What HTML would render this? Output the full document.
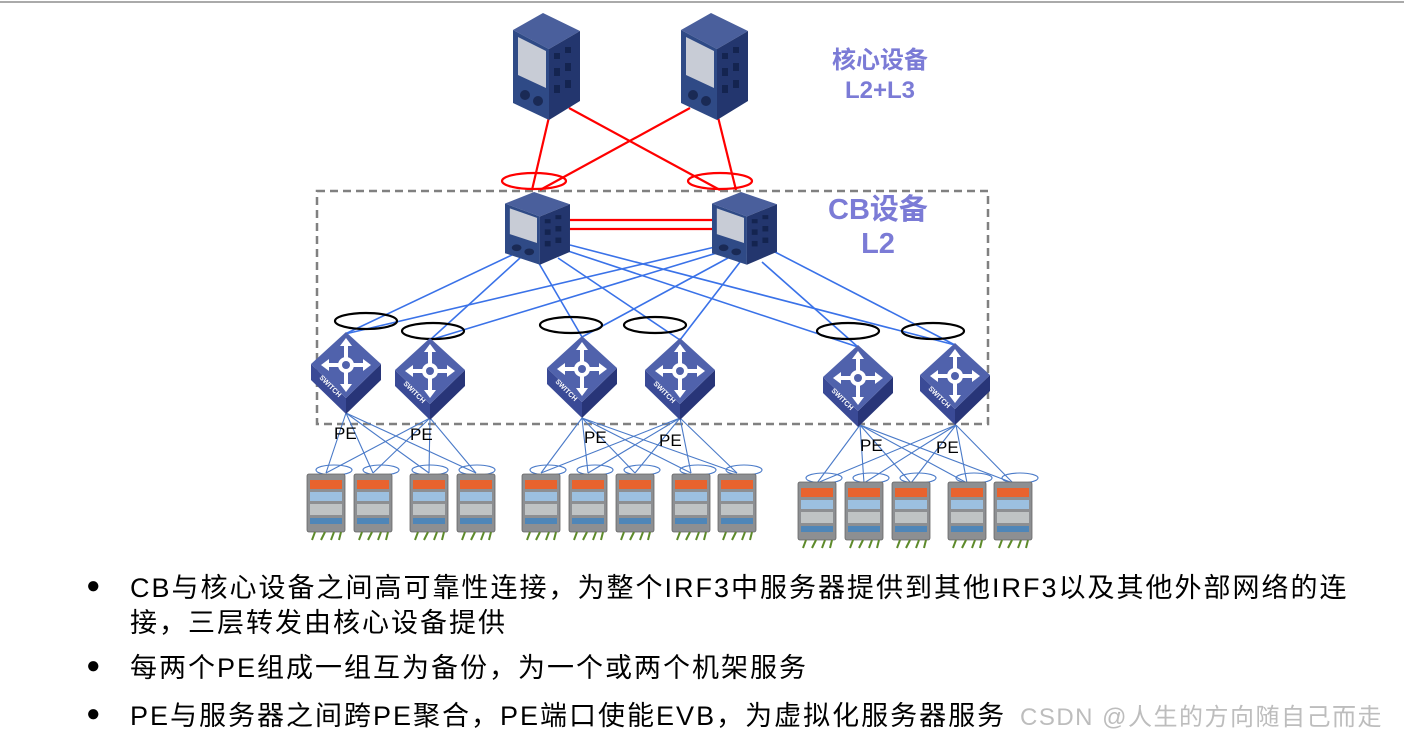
<!DOCTYPE html>
<html><head><meta charset="utf-8"><style>
body{margin:0;background:#fff;width:1404px;height:737px;overflow:hidden;position:relative;font-family:"Liberation Sans","Noto Sans CJK SC",sans-serif}
.b{position:absolute;left:130px;font-size:27px;letter-spacing:2px;color:#000;white-space:nowrap}
.d{position:absolute;left:86px;font-size:24px}
</style></head><body>
<svg width="1404" height="737" style="position:absolute;left:0;top:0">
<defs>
<g id="tw">
<polygon points="0,17 30,0 67,18 36,36" fill="#4a5f9c"/>
<polygon points="0,17 36,36 36,107 0,90" fill="#2f4a86"/>
<polygon points="5,24 33,38 33,75 5,62" fill="#c8ccd6"/>
<polygon points="36,36 67,18 67,88 36,107" fill="#23366e"/>
<rect x="41" y="40" width="6" height="6" fill="#142450"/><rect x="52" y="34" width="6" height="6" fill="#142450"/>
<rect x="41" y="55" width="6" height="8" fill="#142450"/><rect x="52" y="50" width="6" height="8" fill="#142450"/>
<rect x="41" y="72" width="6" height="8" fill="#142450"/><rect x="52" y="67" width="6" height="8" fill="#142450"/>
<circle cx="12" cy="82" r="5" fill="#1a2a55"/><circle cx="25" cy="88" r="5" fill="#1a2a55"/>
</g>
<g id="sw">
<polygon points="0,32 35,66 35,82 0,48" fill="#3a4a96"/>
<polygon points="70,32 35,66 35,82 70,48" fill="#283578"/>
<polygon points="35,0 70,32 35,66 0,32" fill="#5062ac"/>
<g stroke="#fff" stroke-width="4" fill="none"><line x1="35" y1="10" x2="35" y2="56"/><line x1="14" y1="33" x2="56" y2="33"/></g>
<circle cx="35" cy="33" r="8" fill="#fff"/><circle cx="35" cy="33" r="4" fill="#5062ac"/>
<g fill="#fff"><polygon points="35,6 29,14 41,14"/><polygon points="35,60 29,52 41,52"/><polygon points="10,33 18,27 18,39"/><polygon points="60,33 52,27 52,39"/></g>
<text x="8" y="46" font-size="7" fill="#fff" font-weight="bold" transform="rotate(45 8 46)">SWITCH</text>
</g>
<g id="sv">
<rect x="0" y="0" width="38" height="58" rx="2" fill="#8d8f92" stroke="#666" stroke-width="0.8"/>
<rect x="3" y="6" width="32" height="9" fill="#e8632e"/>
<rect x="3" y="18" width="32" height="9" fill="#9cc0e0"/>
<rect x="3" y="30" width="32" height="11" fill="#bfc3c4"/>
<rect x="3" y="44" width="32" height="6" fill="#4f86b8"/>
<g stroke="#5d8a2a" stroke-width="2"><line x1="5" y1="66" x2="8" y2="58"/><line x1="14" y1="66" x2="18" y2="58"/><line x1="24" y1="66" x2="27" y2="58"/><line x1="32" y1="66" x2="34" y2="58"/></g>
</g>
</defs>
<line x1="0" y1="2" x2="1404" y2="2" stroke="#aaa" stroke-width="2"/>
<rect x="317" y="191" width="671" height="233" fill="none" stroke="#808080" stroke-width="2.5" stroke-dasharray="8,5"/>
<g stroke="#f00" stroke-width="2.2" fill="none">
<line x1="549" y1="117" x2="532" y2="190"/><line x1="569" y1="108" x2="720" y2="190"/>
<line x1="690" y1="108" x2="540" y2="190"/><line x1="718" y1="117" x2="736" y2="190"/>
<ellipse cx="534" cy="181" rx="32" ry="8"/><ellipse cx="720" cy="181" rx="32" ry="8"/>
<line x1="568" y1="220" x2="714" y2="220"/><line x1="568" y1="229" x2="714" y2="229"/>
</g>
<use href="#tw" x="513" y="13"/><use href="#tw" x="681" y="13"/>
<g stroke="#3a72e8" stroke-width="1.6">
<line x1="512" y1="255" x2="345" y2="334"/><line x1="520" y1="258" x2="430" y2="340"/><line x1="537" y1="260" x2="582" y2="337"/><line x1="558" y1="258" x2="680" y2="340"/><line x1="565" y1="250" x2="858" y2="347"/><line x1="570" y1="245" x2="955" y2="345"/>
<line x1="715" y1="247" x2="345" y2="334"/><line x1="720" y1="252" x2="430" y2="340"/><line x1="728" y1="258" x2="582" y2="337"/><line x1="740" y1="262" x2="680" y2="340"/><line x1="762" y1="262" x2="858" y2="347"/><line x1="775" y1="252" x2="955" y2="345"/>
</g>
<use href="#tw" x="505" y="192" transform="translate(505 192) scale(0.97 0.68) translate(-505 -192)"/>
<use href="#tw" x="712" y="192" transform="translate(712 192) scale(0.97 0.68) translate(-712 -192)"/>
<g stroke="#000" stroke-width="2.2" fill="none">
<ellipse cx="366" cy="321" rx="31" ry="8"/><ellipse cx="433" cy="331" rx="31" ry="8"/><ellipse cx="571" cy="325" rx="31" ry="8"/><ellipse cx="655" cy="325" rx="31" ry="8"/><ellipse cx="848" cy="331" rx="31" ry="8"/><ellipse cx="933" cy="331" rx="31" ry="8"/>
</g>
<g stroke="#4a7ac8" stroke-width="1.1">
<line x1="346" y1="413" x2="326" y2="473"/><line x1="346" y1="413" x2="373" y2="473"/><line x1="346" y1="413" x2="429" y2="473"/><line x1="346" y1="413" x2="476" y2="473"/>
<line x1="430" y1="418" x2="326" y2="473"/><line x1="430" y1="418" x2="373" y2="473"/><line x1="430" y1="418" x2="429" y2="473"/><line x1="430" y1="418" x2="476" y2="473"/>
<line x1="582" y1="418" x2="541" y2="473"/><line x1="582" y1="418" x2="588" y2="473"/><line x1="582" y1="418" x2="635" y2="473"/><line x1="582" y1="418" x2="691" y2="473"/><line x1="582" y1="418" x2="737" y2="473"/>
<line x1="680" y1="418" x2="541" y2="473"/><line x1="680" y1="418" x2="588" y2="473"/><line x1="680" y1="418" x2="635" y2="473"/><line x1="680" y1="418" x2="691" y2="473"/><line x1="680" y1="418" x2="737" y2="473"/>
<line x1="860" y1="425" x2="817" y2="483"/><line x1="860" y1="425" x2="864" y2="483"/><line x1="860" y1="425" x2="911" y2="483"/><line x1="860" y1="425" x2="967" y2="483"/><line x1="860" y1="425" x2="1013" y2="483"/>
<line x1="956" y1="425" x2="817" y2="483"/><line x1="956" y1="425" x2="864" y2="483"/><line x1="956" y1="425" x2="911" y2="483"/><line x1="956" y1="425" x2="967" y2="483"/><line x1="956" y1="425" x2="1013" y2="483"/>
</g>
<g stroke="#4a7ac8" stroke-width="1.1" fill="none">
<ellipse cx="334" cy="470" rx="18" ry="5"/><ellipse cx="381" cy="470" rx="18" ry="5"/><ellipse cx="430" cy="470" rx="18" ry="5"/><ellipse cx="477" cy="470" rx="18" ry="5"/>
<ellipse cx="548" cy="470" rx="18" ry="5"/><ellipse cx="595" cy="470" rx="18" ry="5"/><ellipse cx="642" cy="470" rx="18" ry="5"/><ellipse cx="698" cy="470" rx="18" ry="5"/><ellipse cx="744" cy="470" rx="18" ry="5"/>
<ellipse cx="824" cy="478" rx="18" ry="5"/><ellipse cx="871" cy="478" rx="18" ry="5"/><ellipse cx="918" cy="478" rx="18" ry="5"/><ellipse cx="974" cy="478" rx="18" ry="5"/><ellipse cx="1020" cy="478" rx="18" ry="5"/>
</g>
<use href="#sw" x="311" y="332"/><use href="#sw" x="395" y="338"/><use href="#sw" x="547" y="336"/><use href="#sw" x="645" y="338"/><use href="#sw" x="823" y="345"/><use href="#sw" x="920" y="343"/>
<use href="#sv" x="307" y="474"/><use href="#sv" x="354" y="474"/><use href="#sv" x="410" y="474"/><use href="#sv" x="457" y="474"/>
<use href="#sv" x="522" y="474"/><use href="#sv" x="569" y="474"/><use href="#sv" x="616" y="474"/><use href="#sv" x="672" y="474"/><use href="#sv" x="718" y="474"/>
<use href="#sv" x="798" y="482"/><use href="#sv" x="845" y="482"/><use href="#sv" x="892" y="482"/><use href="#sv" x="948" y="482"/><use href="#sv" x="994" y="482"/>
<g font-family="Liberation Sans, sans-serif" font-size="17" fill="#000">
<text x="334" y="439">PE</text><text x="410" y="440">PE</text><text x="584" y="443">PE</text><text x="659" y="446">PE</text><text x="860" y="451">PE</text><text x="936" y="453">PE</text>
</g>
<g font-family="Liberation Sans, Noto Sans CJK SC, sans-serif" font-weight="bold" fill="#7b7bd6" text-anchor="middle">
<text x="880" y="68" font-size="24">核心设备</text><text x="880" y="98" font-size="24">L2+L3</text>
<text x="878" y="219" font-size="29">CB设备</text><text x="878" y="253" font-size="29">L2</text>
</g>
</svg>
<div class="d" style="top:572px">●</div>
<div class="b" style="top:566px">CB与核心设备之间高可靠性连接，为整个IRF3中服务器提供到其他IRF3以及其他外部网络的连</div>
<div class="b" style="top:601px">接，三层转发由核心设备提供</div>
<div class="d" style="top:652px">●</div>
<div class="b" style="top:646px">每两个PE组成一组互为备份，为一个或两个机架服务</div>
<div class="d" style="top:700px">●</div>
<div class="b" style="top:694px">PE与服务器之间跨PE聚合，PE端口使能EVB，为虚拟化服务器服务</div>
<div style="position:absolute;left:1020px;top:697px;font-size:24px;letter-spacing:1.5px;color:#bdbdbd;white-space:nowrap">CSDN @人生的方向随自己而走</div>
</body></html>
